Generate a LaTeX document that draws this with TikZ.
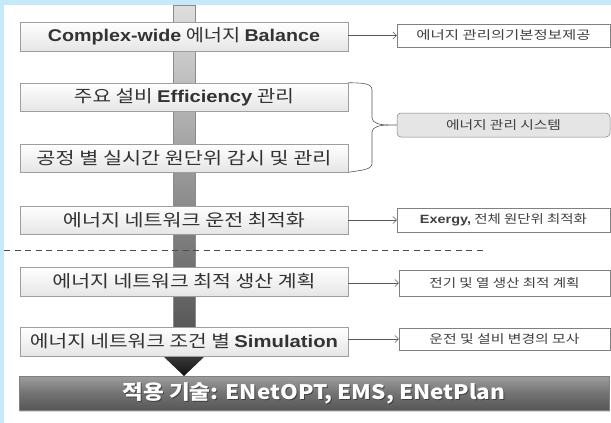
\documentclass[tikz,border=0pt]{standalone}
\usepackage{fontspec}
\newfontfamily\kr{Noto Sans CJK KR}
\newfontfamily\ar{Liberation Sans}
\usetikzlibrary{arrows.meta,shadows}
% stretch a line of text horizontally to a given width
\newcommand{\fitto}[2]{\resizebox{#1}{\height}{#2}}
\newcommand{\resulttext}{\fitto{383pt}{적용 기술: ENetOPT, EMS, ENetPlan}}
\definecolor{frameblue}{HTML}{C6E9F9}
\tikzset{
  x=1pt, y=-1pt,
  mainbox/.style={draw=black!38, line width=0.6pt, top color=white, bottom color=black!10,
    minimum width=328pt, minimum height=28pt, inner sep=0pt, text=black!80,
    drop shadow={opacity=0.25, shadow xshift=0.8pt, shadow yshift=-1.2pt}},
  sidebox/.style={draw=black!50, line width=0.5pt, fill=white, minimum width=213pt,
    minimum height=23pt, inner sep=0pt, text=black!75},
  conn/.style={draw=black!65, line width=0.5pt, -{Straight Barb[length=3.5pt,width=7pt]}},
  braceline/.style={draw=black!65, line width=0.6pt},
  mainfont/.style={font=\kr\fontsize{17}{17}\selectfont},
  sidefont/.style={font=\kr\fontsize{12}{12}\selectfont},
  barfont/.style={font=\kr\bfseries\fontsize{20}{20}\selectfont},
}
\begin{document}
\begin{tikzpicture}
% frame
\fill[frameblue] (0,0) rectangle (611,423);
\fill[white] (4,5) rectangle (611,423);
\useasboundingbox (0,0) rectangle (611,423);

% vertical flow bar and its arrowhead
\shade[top color=black!13, bottom color=black!70, draw=black!45, line width=0.4pt]
  (173,5) rectangle (195,356);
\shade[top color=black!78, bottom color=black!92] (163,356) -- (205,356) -- (184,376) -- cycle;

% main steps
\node[mainbox, minimum height=29pt, mainfont] (b1) at (184,36.5)
  {\fitto{272pt}{{\ar\bfseries Complex-wide} 에너지 {\ar\bfseries Balance}}};
\node[mainbox, mainfont] (b2) at (184,97)
  {\fitto{220pt}{주요 설비 {\ar\bfseries Efficiency} 관리}};
\node[mainbox, mainfont] (b3) at (184,158)
  {\fitto{295pt}{공정 별 실시간 원단위 감시 및 관리}};
\node[mainbox, mainfont] (b4) at (184,220)
  {\fitto{242pt}{에너지 네트워크 운전 최적화}};
\node[mainbox, minimum height=29pt, mainfont] (b5) at (184,281.5)
  {\fitto{263pt}{에너지 네트워크 최적 생산 계획}};
\node[mainbox, minimum height=29pt, mainfont] (b6) at (184,341.5)
  {\fitto{308pt}{에너지 네트워크 조건 별 {\ar\bfseries Simulation}}};

% separator
\draw[black!70, line width=0.7pt, dash pattern=on 6pt off 4.5pt] (4,250) -- (485,250);

% side descriptions
\node[sidebox, sidefont] (r1) at (503.5,35.5)
  {\fitto{174pt}{에너지 관리의기본정보제공}};
\node[sidebox, sidefont, rounded corners=4pt, fill=black!10, minimum height=24pt] (r2) at (503.5,125)
  {\fitto{115pt}{에너지 관리 시스템}};
\node[sidebox, sidefont, minimum height=24pt] (r3) at (503.5,220)
  {\fitto{167pt}{{\ar\bfseries Exergy,} 전체 원단위 최적화}};
\node[sidebox, sidefont, minimum width=211pt, minimum height=26pt] (r4) at (504.5,283)
  {\fitto{150pt}{전기 및 열 생산 최적 계획}};
\node[sidebox, sidefont, minimum width=211pt, minimum height=22pt] (r5) at (504.5,339)
  {\fitto{150pt}{운전 및 설비 변경의 모사}};

% connectors
\draw[conn] (b1.east |- r1.west) -- (r1.west);
\draw[conn] (b4.east |- r3.west) -- (r3.west);
\draw[conn] (b5.east |- r4.west) -- (r4.west);
\draw[conn] (b6.east |- r5.west) -- (r5.west);

% brace grouping the two monitoring steps
\coordinate (bt) at (388,125);
\draw[braceline] (b2.north east) .. controls (362,83) and (372,83) .. (372,90)
  -- (372,118) .. controls (372,123) and (380,125) .. (bt) -- (r2.west);
\draw[braceline] (bt) .. controls (380,125) and (372,127) .. (372,132)
  -- (372,163) .. controls (372,170) and (362,170) .. (b3.south east);

% result bar with a soft shadow under its lettering
\node[minimum width=590pt, minimum height=34pt, inner sep=0pt,
  top color=black!38, bottom color=black!66, middle color=black!55,
  draw=black!50, line width=0.4pt,
  drop shadow={opacity=0.3, shadow xshift=0.8pt, shadow yshift=-1.5pt}] (bar) at (314,393) {};
\node[barfont, text=black!85, opacity=0.6] (barshadow) at ([xshift=1pt,yshift=-1.2pt]bar.center) {\resulttext};
\node[barfont, text=white] (bartext) at (bar.center) {\resulttext};
\end{tikzpicture}
\end{document}
